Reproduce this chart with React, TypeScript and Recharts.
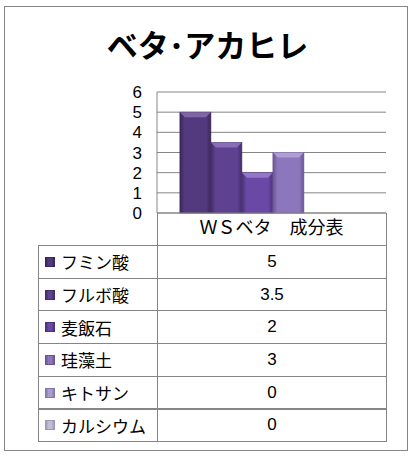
import { BarChart, Bar, XAxis, YAxis, CartesianGrid } from 'recharts';

const category = 'ＷＳベタ　成分表';
const seriesNames = ['フミン酸', 'フルボ酸', '麦飯石', '珪藻土', 'キトサン', 'カルシウム'];
const seriesValues = [5, 3.5, 2, 3, 0, 0];
const seriesLabels = ['5', '3.5', '2', '3', '0', '0'];
const yTicks = [0, 1, 2, 3, 4, 5, 6];
const colors = ['#533a7f', '#5f4192', '#6a48a6', '#8d77bc', '#a99dcb', '#c3bcd7'];
const darks = ['#3a2759', '#432d68', '#4c3278', '#6a5594', '#8479a6', '#9e98b2'];
const lights = ['#8a72b0', '#9479c0', '#a083d0', '#b8a6dc', '#cfc6e4', '#e0dbea'];

const font = '"Noto Sans CJK JP", "Noto Sans", sans-serif';
const numFont = '"Liberation Sans", sans-serif';
const border = '#858585';

const row: Record<string, number | string> = { name: category };
seriesNames.forEach((n, i) => (row[n] = seriesValues[i]));
const data = [row];

const ROW_TOP = 245;
const ROW_H = 32.7;

// bevelled bar like the Excel look
const BevelBar = (i: number) => (props: any) => {
       const { x, y, width, height } = props;
       if (!height || height <= 0) return null;
       const b = Math.min(5, height / 2);
       return (
              <g>
                     <rect x={x} y={y} width={width} height={height} fill={`url(#g${i})`} stroke={darks[i]} strokeWidth={0.6} />
                     <path
                            d={`M${x},${y} L${x + width},${y} L${x + width - b},${y + b} L${x + b},${y + b} Z`}
                            fill={lights[i]}
                            opacity={0.8}
                     />
              </g>
       );
};

export default function App() {
       return (
              <div style={{ position: 'absolute', left: 0, top: 0, width: 415, height: 459, background: '#fff', fontFamily: font }}>
                     <div style={{ position: 'absolute', left: 4, top: 6, width: 402, height: 443, border: `1.5px solid ${border}` }} />
                     <div style={{ position: 'absolute', left: 0, width: 415, top: 22, textAlign: 'center', fontSize: 31, fontWeight: 700, color: '#000', lineHeight: '44px' }}>
                            ベタ･アカヒレ
                     </div>
                     <div style={{ position: 'absolute', left: 0, top: 0 }}>
                            <BarChart
                                   width={415}
                                   height={260}
                                   data={data}
                                   margin={{ top: 92, right: 29, bottom: 15, left: 0 }}
                                   barCategoryGap="10%"
                                   barGap={0}
                            >
                                   <defs>
                                          {colors.map((c, i) => (
                                                 <linearGradient key={i} id={`g${i}`} x1="0" y1="0" x2="1" y2="0">
                                                        <stop offset="0" stopColor={darks[i]} />
                                                        <stop offset="0.15" stopColor={c} />
                                                        <stop offset="0.85" stopColor={c} />
                                                        <stop offset="1" stopColor={darks[i]} />
                                                 </linearGradient>
                                          ))}
                                   </defs>
                                   <CartesianGrid vertical={false} stroke={border} strokeWidth={1} />
                                   <XAxis
                                          dataKey="name"
                                          height={32}
                                          axisLine={{ stroke: border }}
                                          tickLine={false}
                                          tickSize={0}
                                          tickMargin={8}
                                          tick={{ fill: '#000', fontSize: 18, fontFamily: font }}
                                   />
                                   <YAxis
                                          width={157}
                                          domain={[0, 6]}
                                          ticks={yTicks}
                                          interval={0}
                                          axisLine={{ stroke: border }}
                                          tickLine={false}
                                          tickSize={0}
                                          tickMargin={15}
                                          tick={{ fill: '#000', fontSize: 17, fontFamily: numFont }}
                                   />
                                   {seriesNames.map((n, i) => (
                                          <Bar key={n} dataKey={n} fill={colors[i]} shape={BevelBar(i)} isAnimationActive={false} />
                                   ))}
                            </BarChart>
                     </div>
                     <div style={{ position: 'absolute', left: 157, top: 213, width: 230, height: 229, borderLeft: `1px solid ${border}`, borderRight: `1px solid ${border}`, boxSizing: 'border-box' }} />
                     {seriesNames.map((n, i) => (
                            <div
                                   key={n}
                                   style={{
                                          position: 'absolute',
                                          left: 38,
                                          top: ROW_TOP + i * ROW_H,
                                          width: 349,
                                          height: ROW_H + 1,
                                          border: `1px solid ${border}`,
                                          boxSizing: 'border-box',
                                          display: 'flex',
                                          alignItems: 'center',
                                   }}
                            >
                                   <div style={{ width: 119, display: 'flex', alignItems: 'center', borderRight: `1px solid ${border}`, height: '100%', boxSizing: 'border-box' }}>
                                          <div
                                                 style={{
                                                        width: 8,
                                                        height: 8,
                                                        marginLeft: 6,
                                                        marginRight: 6,
                                                        background: `linear-gradient(90deg, ${darks[i]}, ${colors[i]} 30%, ${colors[i]} 70%, ${darks[i]})`,
                                                        border: `0.5px solid ${darks[i]}`,
                                                 }}
                                          />
                                          <span style={{ fontSize: 17, color: '#000', whiteSpace: 'nowrap' }}>{n}</span>
                                   </div>
                                   <div style={{ flex: 1, textAlign: 'center', fontSize: 17, color: '#000', fontFamily: numFont }}>{seriesLabels[i]}</div>
                            </div>
                     ))}
              </div>
       );
}
